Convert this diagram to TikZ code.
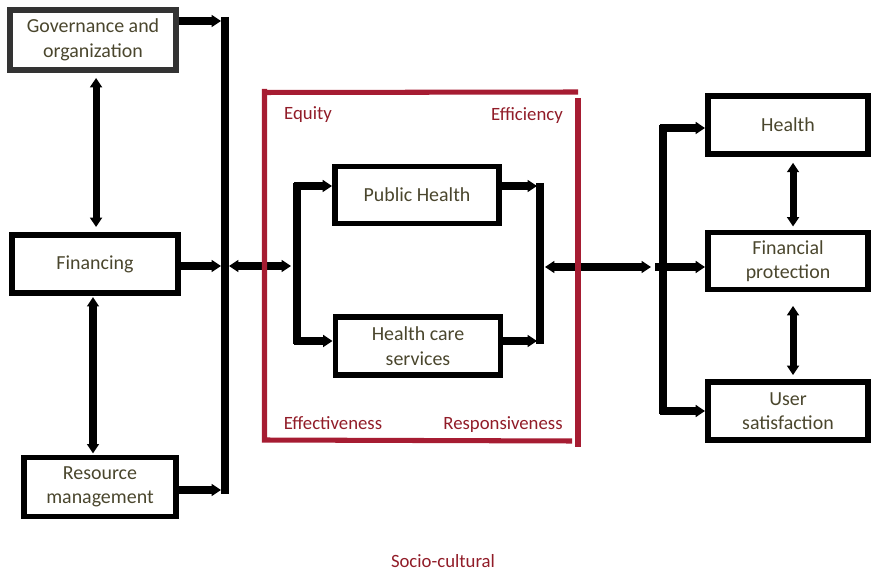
\documentclass[tikz,border=0pt]{standalone}
\usepackage{fontspec}
\setmainfont{Carlito}
\usetikzlibrary{arrows.meta}
\definecolor{boxtext}{RGB}{74,70,45}
\definecolor{framered}{RGB}{166,28,50}
\definecolor{redtext}{RGB}{145,28,40}
\begin{document}
\begin{tikzpicture}[x=0.03cm,y=-0.03cm,
  box/.style={draw,line width=5pt,align=center,text=boxtext,font=\fontsize{17}{21}\selectfont},
  link/.style={line width=6pt},
  arr/.style={link,-{Triangle[width=10pt,length=8pt]}},
  darr/.style={link,{Triangle[width=10pt,length=8pt]}-{Triangle[width=10pt,length=8pt]}},
  crit/.style={text=redtext,font=\fontsize{16}{19}\selectfont}]
\useasboundingbox (0,0) rectangle (871,573);
\node[box,draw=black!80,minimum width=4.98cm,minimum height=1.8cm] (gov) at (93,40) {Governance and\\organization};
\node[box,minimum width=4.98cm,minimum height=1.74cm] (fin) at (95,264) {Financing};
\node[box,minimum width=4.56cm,minimum height=1.77cm] (res) at (100,487) {Resource\\management};
\node[box,minimum width=4.92cm,minimum height=1.71cm] (pub) at (417,195) {Public Health};
\node[box,minimum width=4.95cm,minimum height=1.74cm] (hcs) at (418,346) {Health care\\services};
\node[box,minimum width=4.8cm,minimum height=1.74cm] (hlth) at (788,125) {Health};
\node[box,minimum width=4.8cm,minimum height=1.71cm] (prot) at (788,261) {Financial\\protection};
\node[box,minimum width=4.8cm,minimum height=1.74cm] (sat) at (788,411) {User\\satisfaction};
\coordinate (lbt) at (225,17);
\coordinate (lbb) at (225,494);
\coordinate (g) at (221,21);
\coordinate (f) at (221,266);
\coordinate (r) at (221,490);
\draw[link] (lbt) -- (lbb);
\draw[arr] (gov.east |- g) -- (g);
\draw[arr] (fin.east |- f) -- (f);
\draw[arr] (res.east |- r) -- (r);
\draw[darr,shorten <=4.3pt,shorten >=4.3pt] ([xshift=2.6pt]gov.south) -- ([xshift=2.6pt]gov.south |- fin.north);
\draw[darr,shorten <=1pt,shorten >=1pt] ([xshift=-1.7pt]fin.south) -- ([xshift=-1.7pt]fin.south |- res.north);
\coordinate (inl) at (229,266);
\coordinate (inr) at (291,266);
\draw[darr] (inl) -- (inr);
\coordinate (ibt) at (297,183);
\coordinate (ibb) at (297,344);
\coordinate (pa) at (294,186);
\coordinate (ha) at (294,341);
\draw[link] (ibt) -- (ibb);
\draw[arr] (pa) -- (pub.west |- pa);
\draw[arr] (ha) -- (hcs.west |- ha);
\coordinate (obt) at (540,183);
\coordinate (obb) at (540,344);
\coordinate (pb) at (537,186);
\coordinate (hb) at (537,341);
\draw[link] (obt) -- (obb);
\draw[arr] (pub.east |- pb) -- (pb);
\draw[arr] (hcs.east |- hb) -- (hb);
\coordinate (outl) at (545,267);
\coordinate (outr) at (651,267);
\draw[darr] (outl) -- (outr);
\coordinate (rbt) at (663,125);
\coordinate (rbb) at (663,414);
\coordinate (ta) at (660,128);
\coordinate (ma) at (655,267);
\coordinate (ua) at (660,411);
\draw[link] (rbt) -- (rbb);
\draw[arr] (ta) -- (hlth.west |- ta);
\draw[arr] (ma) -- (prot.west |- ma);
\draw[arr] (ua) -- (sat.west |- ua);
\draw[darr,shorten <=5pt,shorten >=2.6pt] ([xshift=4.3pt]hlth.south) -- ([xshift=4.3pt]hlth.south |- prot.north);
\draw[darr,shorten <=11.5pt,shorten >=3.4pt] ([xshift=4.3pt]prot.south) -- ([xshift=4.3pt]prot.south |- sat.north);
\draw[framered,line width=4.3pt] (262,92.5) -- (578,92);
\draw[framered,line width=4.3pt] (264.5,89) -- (264.5,440) -- (572,441);
\draw[framered,line width=4.3pt] (578,98) -- (578,447);
\node[crit] (eq) at (308,115) {Equity};
\node[crit] (eff) at (527,116) {Efficiency};
\node[crit] (efv) at (333,423) {Effectiveness};
\node[crit] (resp) at (503,425) {Responsiveness};
\node[crit] (soc) at (443,561) {Socio-cultural};
\end{tikzpicture}
\end{document}
